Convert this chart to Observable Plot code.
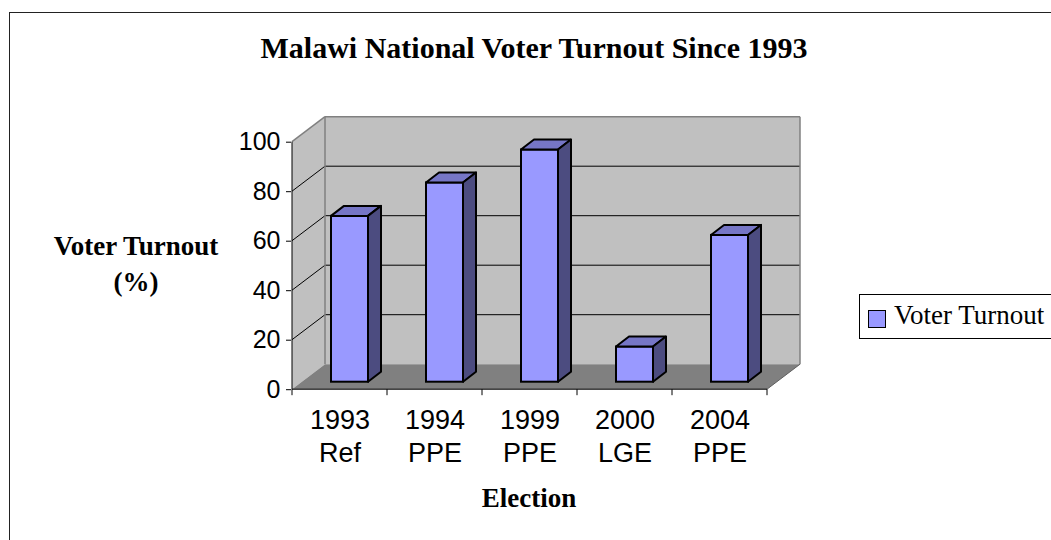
<!DOCTYPE html>
<html><head><meta charset="utf-8">
<script src="https://cdn.jsdelivr.net/npm/d3@7"></script>
<script src="https://cdn.jsdelivr.net/npm/@observablehq/plot@0.6"></script>
<style>
html,body{margin:0;padding:0;background:#fff;overflow:hidden;}
#page{position:relative;width:1051px;height:540px;overflow:hidden;background:#fff;}
#frame{position:absolute;left:9px;top:12px;width:1200px;height:700px;border:1.5px solid #222;box-sizing:border-box;}
.t{position:absolute;font-family:"Liberation Serif","Times New Roman",serif;color:#000;white-space:nowrap;}
#chart{position:absolute;left:0;top:0;}
#legend{position:absolute;left:859px;top:293.5px;width:300px;height:45px;border:1px solid #000;box-sizing:border-box;background:#fff;}
#swatch{position:absolute;left:8px;top:15px;width:18px;height:18px;background:#9999FF;border:1.5px solid #000;box-sizing:border-box;}
</style></head><body>
<div id="page">
  <div id="frame"></div>
  <div class="t" style="left:0;width:1068px;text-align:center;top:33.2px;font-size:30px;line-height:30px;font-weight:bold;">Malawi National Voter Turnout Since 1993</div>
  <div class="t" style="left:36px;width:200px;text-align:center;top:227.5px;font-size:27px;line-height:36.7px;font-weight:bold;">Voter Turnout<br>(%)</div>
  <div class="t" style="left:329px;width:400px;text-align:center;top:485.1px;font-size:27px;line-height:27px;font-weight:bold;">Election</div>
  <div id="chart"></div>
  <div id="legend"><div id="swatch"></div><div class="t" style="left:34px;top:7px;font-size:27px;line-height:27px;">Voter Turnout</div></div>
</div>
<script>
// ---- data ----
const years = ["1993", "1994", "1999", "2000", "2004"];
const electionTypes = ["Ref", "PPE", "PPE", "LGE", "PPE"];
const turnout = [67, 80.5, 93.8, 14.2, 59.3];
const yTicks = [0, 20, 40, 60, 80, 100];
const seriesName = "Voter Turnout";

const categories = years.map((y, i) => y + "\n" + electionTypes[i]);
const data = categories.map((c, i) => ({cat: c, value: turnout[i]}));

// ---- 3D styling constants (pixels) ----
const DX = 33, DY = -25;          // wall depth
const BX = 10, BY = -7.5;         // bar position inside depth
const BDX = 13, BDY = -10;        // bar depth
const INSET = 29;                 // bar inset within band

function poly(g, pts, fill, stroke, sw) {
  g.append("path")
    .attr("d", "M" + pts.map(p => p.join(",")).join("L") + "Z")
    .attr("fill", fill)
    .attr("stroke", stroke || "none")
    .attr("stroke-width", sw || 1)
    .attr("stroke-linejoin", "round");
}
function line(g, x1, y1, x2, y2, stroke, sw) {
  g.append("line").attr("x1", x1).attr("y1", y1).attr("x2", x2).attr("y2", y2)
    .attr("stroke", stroke).attr("stroke-width", sw || 1);
}
function bandInfo(sx) {
  return sx(categories[1]) - sx(categories[0]);
}

// walls, floor, gridlines
const walls = (index, scales) => {
  const sx = scales.x, sy = scales.y;
  const bw = bandInfo(sx);
  const x0 = sx(categories[0]);
  const x1 = sx(categories[categories.length - 1]) + bw;
  const y0 = sy(0), yTop = sy(yTicks[yTicks.length - 1]);
  const g = d3.create("svg:g");
  poly(g, [[x0 + DX, yTop + DY], [x1 + DX, yTop + DY], [x1 + DX, y0 + DY], [x0 + DX, y0 + DY]], "#C0C0C0");
  poly(g, [[x0, y0], [x0, yTop], [x0 + DX, yTop + DY], [x0 + DX, y0 + DY]], "#C0C0C0");
  poly(g, [[x0, y0], [x1, y0], [x1 + DX, y0 + DY], [x0 + DX, y0 + DY]], "#808080");
  for (const t of yTicks.slice(1, -1)) {
    const y = sy(t);
    line(g, x0 + DX, y + DY, x1 + DX, y + DY, "#000", 1);
    line(g, x0, y, x0 + DX, y + DY, "#000", 1);
  }
  line(g, x0, yTop, x0 + DX, yTop + DY, "#808080", 1.5);
  line(g, x0 + DX, yTop + DY, x1 + DX, yTop + DY, "#808080", 1.5);
  line(g, x1 + DX, yTop + DY, x1 + DX, y0 + DY, "#808080", 1.5);
  line(g, x0 + DX, yTop + DY, x0 + DX, y0 + DY, "#808080", 1.5);
  line(g, x1, y0, x1 + DX, y0 + DY, "#606060", 1);
  line(g, x0, y0, x0, yTop, "#000", 1);
  line(g, x0, y0, x1, y0, "#000", 1);
  for (let i = 0; i <= categories.length; i++) {
    const x = i < categories.length ? sx(categories[i]) : x1;
    line(g, x, y0, x, y0 + 6, "#000", 1);
  }
  return g.node();
};

// bar tops and sides
const barFaces = (index, scales) => {
  const sx = scales.x, sy = scales.y;
  const bw = bandInfo(sx);
  const g = d3.create("svg:g");
  for (const d of data) {
    const L = sx(d.cat) + INSET + BX;
    const R = sx(d.cat) + bw - INSET + BX;
    const T = sy(d.value) + BY;
    const B = sy(0) + BY;
    poly(g, [[L, T], [R, T], [R + BDX, T + BDY], [L + BDX, T + BDY]], "#7676C6", "#000", 2);
    poly(g, [[R, T], [R + BDX, T + BDY], [R + BDX, B + BDY], [R, B]], "#4C4C80", "#000", 2);
  }
  return g.node();
};

const chart = Plot.plot({
  width: 1051,
  height: 540,
  marginLeft: 291,
  marginRight: 283,
  marginTop: 141.7,
  marginBottom: 150.8,
  style: {background: "transparent", overflow: "visible"},
  x: {type: "band", domain: categories, padding: 0, axis: null},
  y: {domain: [0, 100]},
  marks: [
    walls,
    Plot.barY(data, {
      x: "cat", y: "value", fill: "#9999FF", stroke: "#000", strokeWidth: 2,
      insetLeft: INSET, insetRight: INSET, dx: BX, dy: BY
    }),
    barFaces,
    Plot.axisY({
      ticks: yTicks, tickSize: 5, tickPadding: 6, label: null,
      fontSize: 25, fontFamily: "Liberation Sans, Arial, sans-serif", stroke: "#000"
    }),
    Plot.text(categories, {
      x: d => d, text: d => d, frameAnchor: "bottom", lineAnchor: "top",
      dy: 15.5, fontSize: 27, lineHeight: 1.24,
      fontFamily: "Liberation Sans, Arial, sans-serif", fill: "#000"
    })
  ]
});
document.getElementById("chart").appendChild(chart);
</script>
</body></html>
